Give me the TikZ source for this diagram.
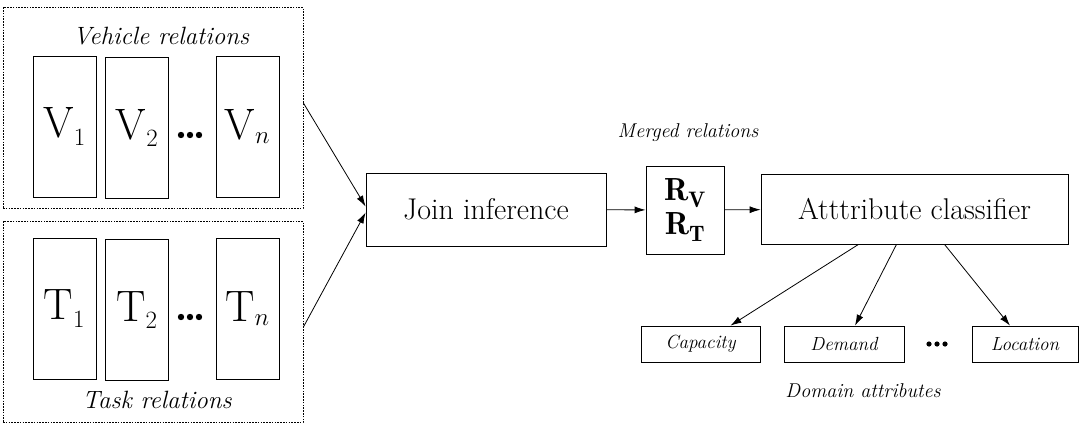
\documentclass[tikz,border=0pt]{standalone}
\usepackage{fontspec}
\usetikzlibrary{arrows.meta,positioning}

\tikzset{
  group/.style={draw,dash pattern=on 1.6pt off 1.2pt,minimum width=300pt,minimum height=201pt,inner sep=0pt},
  rel/.style={draw,minimum width=63pt,minimum height=141pt,inner sep=0pt,font=\fontsize{44}{46}\selectfont},
  stage/.style={draw,inner sep=0pt,font=\fontsize{30}{32}\selectfont},
  attr/.style={draw,minimum height=36pt,inner sep=0pt,font=\itshape\fontsize{19}{21}\selectfont},
  title/.style={font=\itshape\fontsize{25}{27}\selectfont},
  small title/.style={font=\itshape\fontsize{20}{22}\selectfont},
  arr/.style={-{Latex[length=11pt,width=7pt]}},
}

\begin{document}
\begin{tikzpicture}[x=1pt,y=-1pt,line width=0.8pt]
\useasboundingbox (0,0) rectangle (1079,423);
% vehicle relations
\node[group] (vgrp) at (153,108) {};
\node[title] (vtitle) at (161,36) {Vehicle relations};
\node[rel] (v1) at (64.5,126.5) {$\mathrm{V}_1$};
\node[rel] (v2) at (137,128) {$\mathrm{V}_2$};
\node[rel] (vn) at (247.5,126.5) {$\mathrm{V}_n$};
\coordinate (vdots) at (190,135);
\foreach \dx in {-9,0,9} \fill ([xshift=\dx pt]vdots) circle (3.2pt);
% task relations
\node[group] (tgrp) at (153,322) {};
\node[rel] (t1) at (64.5,308.5) {$\mathrm{T}_1$};
\node[rel] (t2) at (137,310) {$\mathrm{T}_2$};
\node[rel] (tn) at (247.5,308.5) {$\mathrm{T}_n$};
\coordinate (tdots) at (190,317);
\foreach \dx in {-9,0,9} \fill ([xshift=\dx pt]tdots) circle (3.2pt);
\node[title] (ttitle) at (157,400) {Task relations};
% join and merge
\node[stage,minimum width=240pt,minimum height=73pt] (join) at (486,209.5) {Join inference};
\node[stage,minimum width=78pt,minimum height=88pt,align=center,font=\fontsize{32}{32}\selectfont] (merged) at (685,210)
  {$\mathbf{R}_{\mathbf{V}}$\\[2pt]$\mathbf{R}_{\mathbf{T}}$};
\node[small title] (mtitle) at (688,133) {Merged relations};
\node[stage,minimum width=307pt,minimum height=70pt] (cls) at (914.5,209) {Atttribute classifier};
% domain attributes
\node[attr,minimum width=119pt] (cap) at (700.5,344) {Capacity};
\node[attr,minimum width=120pt] (dem) at (844,344) {Demand};
\node[attr,minimum width=106pt] (loc) at (1025,344) {Location};
\coordinate (adots) at (937,344);
\foreach \dx in {-8,0,8} \fill ([xshift=\dx pt]adots) circle (2.6pt);
\node[small title] (dtitle) at (863,391) {Domain attributes};
% arrows
\draw[arr] ([yshift=5pt]vgrp.east) -- ([yshift=3pt]join.west);
\draw[arr] ([yshift=-5pt]tgrp.east) -- ([yshift=-3pt]join.west);
\draw[arr] (join) -- (merged);
\draw[arr] (merged) -- (cls);
\draw[arr] ([xshift=-56pt]cls.south) -- ([xshift=30pt]cap.north);
\draw[arr] ([xshift=-18pt]cls.south) -- ([xshift=11pt]dem.north);
\draw[arr] ([xshift=30pt]cls.south) -- ([xshift=-15pt]loc.north);
\end{tikzpicture}
\end{document}
